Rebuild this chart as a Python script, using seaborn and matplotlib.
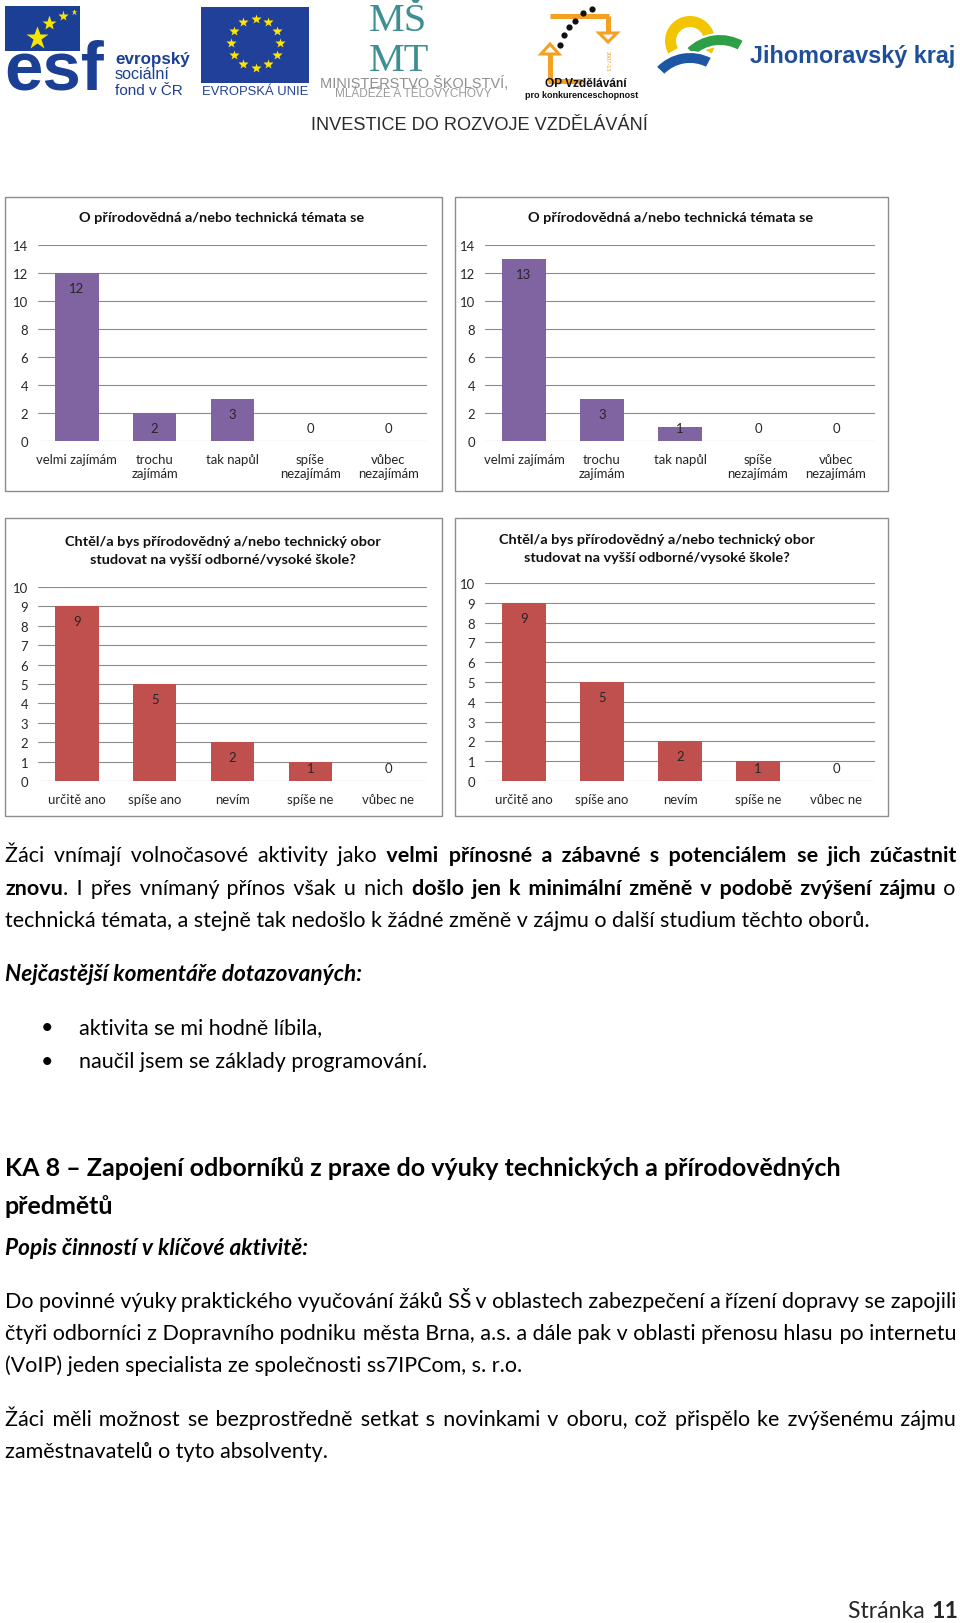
import matplotlib
matplotlib.use("Agg")
import matplotlib.pyplot as plt
from matplotlib.patches import Rectangle, Wedge, Polygon
import numpy as np
import pandas as pd
import seaborn as sns

# ---------------- data ----------------
cats_interest = ["velmi zajímám", "trochu\nzajímám", "tak napůl", "spíše\nnezajímám", "vůbec\nnezajímám"]
interest_before = [12, 2, 3, 0, 0]
interest_after = [13, 3, 1, 0, 0]
ticks_interest = [0, 2, 4, 6, 8, 10, 12, 14]

cats_study = ["určitě ano", "spíše ano", "nevím", "spíše ne", "vůbec ne"]
study_before = [9, 5, 2, 1, 0]
study_after = [9, 5, 2, 1, 0]
ticks_study = [0, 1, 2, 3, 4, 5, 6, 7, 8, 9, 10]

title_interest = ["O přírodovědná a/nebo technická témata se"]
title_study = ["Chtěl/a bys přírodovědný a/nebo technický obor",
               "studovat na vyšší odborné/vysoké škole?"]

para1 = [
    [("Žáci vnímají volnočasové aktivity jako ", "n"),
     ("velmi přínosné a zábavné s potenciálem se jich zúčastnit", "b")],
    [("znovu", "b"), (". I přes vnímaný přínos však u nich ", "n"),
     ("došlo jen k minimální změně v podobě zvýšení zájmu", "b"), (" o", "n")],
    [("technická témata, a stejně tak nedošlo k žádné změně v zájmu o další studium těchto oborů.", "n")],
]
comments_head = "Nejčastější komentáře dotazovaných:"
comments = ["aktivita se mi hodně líbila,", "naučil jsem se základy programování."]
ka_head = ["KA 8 – Zapojení odborníků z praxe do výuky technických a přírodovědných", "předmětů"]
popis_head = "Popis činností v klíčové aktivitě:"
para2 = [
    "Do povinné výuky praktického vyučování žáků SŠ v oblastech zabezpečení a řízení dopravy se zapojili",
    "čtyři odborníci z Dopravního podniku města Brna, a.s. a dále pak v oblasti přenosu hlasu po internetu",
    "(VoIP) jeden specialista ze společnosti ss7IPCom, s. r.o.",
]
para3 = [
    "Žáci měli možnost se bezprostředně setkat s novinkami v oboru, což přispělo ke zvýšenému zájmu",
    "zaměstnavatelů o tyto absolventy.",
]
page_label = [("Stránka ", "n"), ("11", "b")]

# ---------------- setup ----------------
W, H = 960, 1624
sns.set_style("white")
FAM = ['Lato', 'DejaVu Sans']
plt.rcParams['font.family'] = FAM

fig = plt.figure(figsize=(W / 100, H / 100), dpi=100)
page = fig.add_axes([0, 0, 1, 1])
page.set_xlim(0, W)
page.set_ylim(H, 0)
page.axis('off')
page.set_zorder(0)
renderer = fig.canvas.get_renderer()

STY = {'n': dict(fontweight='normal', fontstyle='normal'),
       'b': dict(fontweight='bold', fontstyle='normal'),
       'bi': dict(fontweight='bold', fontstyle='italic')}
HAIR = '\u200a'


def measure(s, size, **kw):
    t = page.text(0, 0, s, fontsize=size, **kw)
    w = t.get_window_extent(renderer).width
    t.remove()
    return w


def fit_size(s, width, **kw):
    return 10.0 * width / measure(s, 10.0, **kw)


def fit_text(x, y, s, width, ha='left', va='center', **kw):
    size = fit_size(s, width, **kw)
    return page.text(x, y, s, fontsize=size, ha=ha, va=va, **kw)


def px_axes(x0, y0, x1, y1):
    return fig.add_axes([x0 / W, 1 - y1 / H, (x1 - x0) / W, (y1 - y0) / H])


# ---------------- logos ----------------
LS = 'Liberation Sans'
esf_blue = '#1B3F95'
sq = Rectangle((5, 7), 75, 45, color=esf_blue, lw=0)
page.add_patch(sq)
for sx, sy, ms in [(37, 39, 17), (49, 24, 11), (63, 17, 8), (74, 13, 5)]:
    page.plot(sx, sy, marker='*', ms=ms, color='#F6E500', mec='none')
esf_fs = fit_size('esf', 100, family=LS, fontweight='bold')
page.text(4, 90, 'esf', fontsize=esf_fs, family=LS, fontweight='bold', color=esf_blue, va='baseline')
tw = page.text(4, 90, 'esf', fontsize=esf_fs, family=LS, fontweight='bold', color='white', va='baseline')
tw.set_clip_on(True)
tw.set_clip_path(sq)
fit_text(115, 64, 'evropský', 75, va='baseline', family=LS, fontweight='bold', color=esf_blue)
fit_text(115, 79, 'sociální', 55, va='baseline', family=LS, color=esf_blue)
fit_text(115, 95, 'fond v ČR', 68, va='baseline', family=LS, color=esf_blue)

# EU flag
eu_blue = '#21409A'
page.add_patch(Rectangle((201, 8), 108, 76, color=eu_blue, lw=0))
ang = np.arange(12) * 30
page.plot(255.5 + 24.5 * np.cos(np.radians(ang)), 44 + 24.5 * np.sin(np.radians(ang)),
          ls='none', marker='*', ms=7, color='#FFE500', mec='none')
fit_text(255, 92, 'EVROPSKÁ UNIE', 106, ha='center', family=LS, color=eu_blue)

# MSMT
teal = '#3F8F92'
page.text(369, 3, 'MŠ\nMT', fontsize=29, va='top', ha='left', multialignment='left',
          linespacing=1.1, family='Liberation Serif', color=teal)
fit_text(320, 83, 'MINISTERSTVO ŠKOLSTVÍ,', 188, family=LS, color='#8F8F8F')
fit_text(335, 94, 'MLÁDEŽE A TĚLOVÝCHOVY', 157, family=LS, color='#9A9A9A')

# OP logo
orange = '#F4A023'
page.plot([550, 609], [17, 17], color=orange, lw=3.6, solid_capstyle='butt')
page.plot([608, 608], [17, 34], color=orange, lw=3.6, solid_capstyle='butt')
page.plot([550, 550], [82, 55], color=orange, lw=3.6, solid_capstyle='butt')
page.plot([548, 582], [82, 82], color=orange, lw=3.6, solid_capstyle='butt')
page.add_patch(Polygon([(599, 34), (617, 34), (608, 43)], closed=True, fc='white', ec=orange, lw=2.2))
page.add_patch(Polygon([(541, 55), (559, 55), (550, 45)], closed=True, fc='white', ec=orange, lw=2.2))
page.text(607, 61, '2007-13', fontsize=4, rotation=-90, color=orange, ha='center', va='center', family=LS)
for dx, dy in [(560, 46), (564, 36), (569, 28), (575, 22), (583, 14), (592, 10)]:
    page.plot(dx, dy, marker='o', ms=4.5, color='#111111', mec='none')
fit_text(586, 84, 'OP Vzdělávání', 82, ha='center', family=LS, fontweight='bold', color='#111111')
fit_text(582, 95, 'pro konkurenceschopnost', 113, ha='center', family=LS, fontweight='bold', color='#111111')

# Jihomoravsky kraj
page.add_patch(Wedge((690, 42), 25, -210, 30, width=11, color='#F2C500', lw=0))
page.add_patch(Wedge((720, 83), 48, -135, -60, width=12, fc='#2E9E47', ec='white', lw=1.5))
page.add_patch(Wedge((690, 100), 47, -137, -62, width=12, fc='#1D56A5', ec='white', lw=1.5))
fit_text(750, 56, 'Jihomoravský kraj', 205, family=LS, fontweight='bold', color='#1F4E9B')

fit_text(479, 125, 'INVESTICE DO ROZVOJE VZDĚLÁVÁNÍ', 336, ha='center', family=LS, color='#2A2A2A')

# ---------------- charts ----------------
tick_fs = fit_size('velmi zajímám', 77) * 1.05
title_fs = fit_size(title_interest[0], 285, fontweight='bold')
purple = '#8064A2'
red = '#C0504D'


def draw_chart(box, plot, cats, vals, color, title_lines, title_pos, yticks):
    bx0, by0, bx1, by1 = box
    page.add_patch(Rectangle((bx0, by0), bx1 - bx0, by1 - by0, fill=False, ec='#8C8C8C', lw=1.0))
    tx, ty = title_pos
    for k, line in enumerate(title_lines):
        page.text(tx, ty + 18 * k, line, fontsize=title_fs, fontweight='bold', color='#111111',
                  ha='center', va='center')
    ax = px_axes(*plot)
    ax.set_zorder(1)
    df = pd.DataFrame({'cat': cats, 'val': vals})
    sns.barplot(data=df, x='cat', y='val', order=cats, color=color, saturation=1,
                width=0.56, errorbar=None, linewidth=0, ax=ax)
    ymax = yticks[-1]
    ax.set_ylim(0, ymax)
    ax.set_xlim(-0.5, len(cats) - 0.5)
    ax.set_yticks(yticks)
    ax.yaxis.grid(True, color='#8C8C8C', lw=0.8)
    ax.xaxis.grid(False)
    ax.set_axisbelow(True)
    for s in ax.spines.values():
        s.set_visible(False)
    ax.tick_params(axis='both', length=0, labelsize=tick_fs, colors='#262626')
    ax.tick_params(axis='y', pad=7)
    ax.tick_params(axis='x', pad=9)
    ax.set_xlabel('')
    ax.set_ylabel('')
    ppu = (plot[3] - plot[1]) / ymax
    for i, v in enumerate(vals):
        if v > 0:
            off = -min(15, max(1, v * ppu - 13))
        else:
            off = 13
        ax.annotate(str(v), xy=(i, v), xytext=(0, off), textcoords='offset pixels',
                    ha='center', va='center', fontsize=tick_fs, color='#262626')
    return ax


draw_chart((5, 198, 442, 492), (38, 246, 427, 442), cats_interest, interest_before, purple,
           title_interest, (222, 218), ticks_interest)
draw_chart((455, 198, 888, 492), (485, 246, 875, 442), cats_interest, interest_after, purple,
           title_interest, (671, 218), ticks_interest)
draw_chart((5, 519, 442, 817), (38, 588, 427, 782), cats_study, study_before, red,
           title_study, (223, 542), ticks_study)
draw_chart((455, 519, 888, 817), (485, 584, 875, 782), cats_study, study_after, red,
           title_study, (657, 540), ticks_study)

# ---------------- body text ----------------
body_fs = fit_size(para1[2][0][0], 863, **STY['n'])


def words_of(segs):
    words = [[]]
    for txt, st in segs:
        parts = txt.split(' ')
        for i, p in enumerate(parts):
            if i > 0:
                words.append([])
            if p:
                words[-1].append((p, st))
    return [w for w in words if w]


def draw_line(segs, cy, x0=5, x1=956, size=None, justify=False, color='black'):
    """Draw one line as few text runs; justified lines get their gaps built from spaces/hair spaces."""
    size = size or body_fs
    base = cy + 0.3 * size * 100 / 72
    words = words_of(segs)
    ngap = len(words) - 1
    seps = [' '] * ngap
    if justify and ngap > 0:
        widths = [sum(measure(t, size, **STY[st]) for t, st in w) for w in words]
        G = (x1 - x0 - sum(widths)) / ngap
        err = 0.0
        for g in range(ngap):
            st = words[g + 1][0][1]
            sp = measure('a a', size, **STY[st]) - measure('aa', size, **STY[st])
            hr = measure('a' + HAIR + 'a', size, **STY[st]) - measure('aa', size, **STY[st])
            if hr <= 0.2:
                continue
            if G >= sp:
                want = G - sp + err
                k = max(0, int(round(want / hr)))
                err = want - k * hr
                seps[g] = ' ' + HAIR * k
            else:
                want = G + err
                k = max(1, int(round(want / hr)))
                err = want - k * hr
                seps[g] = HAIR * k
    # build runs: separators are attached to the start of the following word
    runs = []
    for i, w in enumerate(words):
        for j, (t, st) in enumerate(w):
            piece = (seps[i - 1] if (i > 0 and j == 0) else '') + t
            if runs and runs[-1][1] == st:
                runs[-1][0] += piece
            else:
                runs.append([piece, st])
    x = x0
    for t, st in runs:
        page.text(x, base, t, fontsize=size, va='baseline', ha='left', color=color, **STY[st])
        x += measure(t, size, **STY[st])


draw_line(para1[0], 856, justify=True)
draw_line(para1[1], 889, justify=True)
draw_line(para1[2], 921)

head_fs = fit_size(comments_head, 357, **STY['bi'])
draw_line([(comments_head, 'bi')], 974, size=head_fs)
for c, cy in zip(comments, [1028, 1062]):
    page.text(47, cy, '•', fontsize=body_fs, ha='center', va='center', color='black')
    draw_line([(c, 'n')], cy, x0=79)

ka_fs = fit_size(ka_head[0], 839, **STY['b'])
draw_line([(ka_head[0], 'b')], 1168, size=ka_fs)
draw_line([(ka_head[1], 'b')], 1206, size=ka_fs)
draw_line([(popis_head, 'bi')], 1248, size=head_fs)

draw_line([(para2[0], 'n')], 1302, justify=True)
draw_line([(para2[1], 'n')], 1334, justify=True)
draw_line([(para2[2], 'n')], 1366)
draw_line([(para3[0], 'n')], 1420, justify=True)
draw_line([(para3[1], 'n')], 1452)

# page number, right aligned
pn_fs = body_fs * 1.07
tot = sum(measure(t, pn_fs, **STY[st]) for t, st in page_label)
x = 958 - tot
for t, st in page_label:
    page.text(x, 1618, t, fontsize=pn_fs, va='baseline', **STY[st])
    x += measure(t, pn_fs, **STY[st])

fig.savefig('out.png', dpi=100)
